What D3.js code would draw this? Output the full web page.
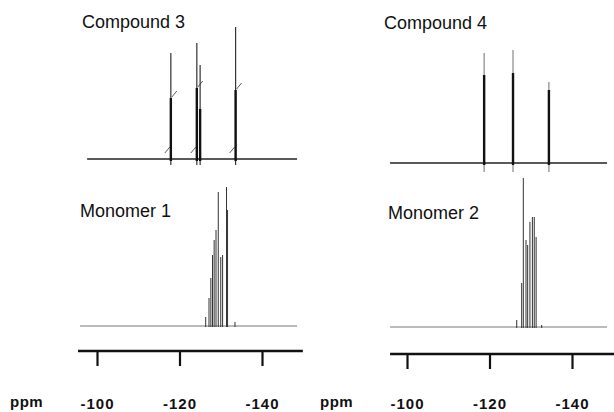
<!DOCTYPE html>
<html>
<head>
<meta charset="utf-8">
<script src="https://cdn.jsdelivr.net/npm/d3@7"></script>
<style>
  body { margin: 0; background: #fff; }
  text { font-family: "Liberation Sans", Arial, sans-serif; }
</style>
</head>
<body>
<div id="chart"></div>
<script>
// peak positions (ppm) and heights (arbitrary intensity)
var compound3Ppm = [-117.9, -124.2, -125.0, -133.6]
var compound3Height = [106, 116, 94, 132]
var compound3Core = [61, 71, 50, 69]

var compound4Ppm = [-118.7, -125.7, -134.4]
var compound4Height = [110, 113, 81]
var compound4Core = [88, 90, 73]

var monomer1Ppm = [-126.35, -127.15, -127.6, -128.0, -128.4, -128.85, -129.4, -130.0, -130.45, -131.4, -131.65, -133.45]
var monomer1Height = [9, 28, 48, 71, 86, 96, 134, 69, 71, 139, 116, 4]

var monomer2Ppm = [-126.6, -127.8, -128.2, -128.85, -129.25, -129.8, -130.4, -130.85, -131.3, -132.65]
var monomer2Height = [7, 44, 149, 87, 82, 105, 110, 110, 90, 2]

var tickValues = [-100, -120, -140]
var axisLabel = "ppm"

var width = 614, height = 412

var svg = d3.select("#chart")
    .append("svg")
    .attr("width", width)
    .attr("height", height)

// x scales: one per column
var xLeft = d3.scaleLinear().domain([-100, -140]).range([97, 262])
var xRight = d3.scaleLinear().domain([-100, -140]).range([407, 572])

var panels = [
    { name: "Compound 3", x: xLeft, base: 159, span: [-97.6, -148.5], ppm: compound3Ppm, h: compound3Height, core: compound3Core, dip: 6, marks: true, tx: 82, ty: 28, light: "#333" },
    { name: "Compound 4", x: xRight, base: 163, span: [-95.9, -148.5], ppm: compound4Ppm, h: compound4Height, core: compound4Core, dip: 9, marks: false, tx: 384, ty: 29, light: "#888" },
    { name: "Monomer 1", x: xLeft, base: 326, span: [-95.9, -148.5], ppm: monomer1Ppm, h: monomer1Height, tx: 80, ty: 217 },
    { name: "Monomer 2", x: xRight, base: 327, span: [-95.9, -148.5], ppm: monomer2Ppm, h: monomer2Height, tx: 388, ty: 219 }
]

panels.forEach(function (p) {
    var y = d3.scaleLinear().domain([0, 150]).range([p.base, p.base - 150])
    var g = svg.append("g")
    var peaks = p.ppm.map(function (d, i) {
        return { ppm: d, h: p.h[i], core: p.core ? p.core[i] : 0 }
    })
    var isCompound = !!p.core

    // baseline
    g.append("line")
        .attr("x1", p.x(p.span[0]))
        .attr("x2", p.x(p.span[1]))
        .attr("y1", y(0))
        .attr("y2", y(0))
        .attr("stroke", isCompound ? "#222" : "#777")
        .attr("stroke-width", isCompound ? 1.6 : 1)

    // full-height peaks
    g.selectAll(".peak")
        .data(peaks)
        .enter()
        .append("line")
        .attr("x1", function (d) { return p.x(d.ppm) })
        .attr("x2", function (d) { return p.x(d.ppm) })
        .attr("y1", isCompound ? y(0) + p.dip : y(0) + 1)
        .attr("y2", function (d) { return y(d.h) })
        .attr("stroke", isCompound ? p.light : "#333")
        .attr("stroke-width", isCompound ? 1.2 : 1)

    if (isCompound) {
        // thick lower part of each line
        g.selectAll(".core")
            .data(peaks.filter(function (d) { return d.core > 0 }))
            .enter()
            .append("line")
            .attr("x1", function (d) { return p.x(d.ppm) })
            .attr("x2", function (d) { return p.x(d.ppm) })
            .attr("y1", y(0) + 2)
            .attr("y2", function (d) { return y(d.core) })
            .attr("stroke", "#111")
            .attr("stroke-width", 2.4)
    }

    if (p.marks) {
        // integration slashes
        var main = peaks.filter(function (d, i) { return i !== 2 })
        g.selectAll(".mark-hi")
            .data(main)
            .enter()
            .append("line")
            .attr("x1", function (d) { return p.x(d.ppm) + 1 })
            .attr("x2", function (d) { return p.x(d.ppm) + 6 })
            .attr("y1", function (d) { return y(d.core) - 1 })
            .attr("y2", function (d) { return y(d.core) - 7 })
            .attr("stroke", "#333")
            .attr("stroke-width", 0.8)
        g.selectAll(".mark-lo")
            .data(main)
            .enter()
            .append("line")
            .attr("x1", function (d) { return p.x(d.ppm) - 6 })
            .attr("x2", function (d) { return p.x(d.ppm) - 1 })
            .attr("y1", y(0) - 6)
            .attr("y2", y(0) - 12)
            .attr("stroke", "#333")
            .attr("stroke-width", 0.8)
    }

    g.append("text")
        .attr("x", p.tx)
        .attr("y", p.ty)
        .style("font-size", "18px")
        .attr("fill", "#111")
        .text(p.name)
})

// ppm axes
var axes = [
    { x: xLeft, y: 351, span: [-95.4, -149.9], lx: 10 },
    { x: xRight, y: 354, span: [-95.9, -151], lx: 320 }
]

axes.forEach(function (a) {
    var g = svg.append("g")
        .attr("transform", "translate(0," + a.y + ")")
        .call(d3.axisBottom(a.x)
            .tickValues(tickValues)
            .tickSize(15)
            .tickPadding(398 - a.y - 15)
            .tickFormat(function (d) { return String(d) }))
    g.select(".domain").remove()
    g.selectAll(".tick line").attr("stroke", "#111").attr("stroke-width", 2.2)
    g.selectAll(".tick text")
        .attr("fill", "#111")
        .style("font-size", "15px")
        .style("font-weight", "bold")
        .style("letter-spacing", "1px")
        .style("font-family", "'Liberation Sans', Arial, sans-serif")

    g.append("line")
        .attr("x1", a.x(a.span[0]))
        .attr("x2", a.x(a.span[1]))
        .attr("stroke", "#111")
        .attr("stroke-width", 2.6)

    svg.append("text")
        .attr("x", a.lx)
        .attr("y", 407)
        .style("font-size", "15px")
        .style("font-weight", "bold")
        .style("letter-spacing", "0.5px")
        .attr("fill", "#111")
        .text(axisLabel)
})
</script>
</body>
</html>
